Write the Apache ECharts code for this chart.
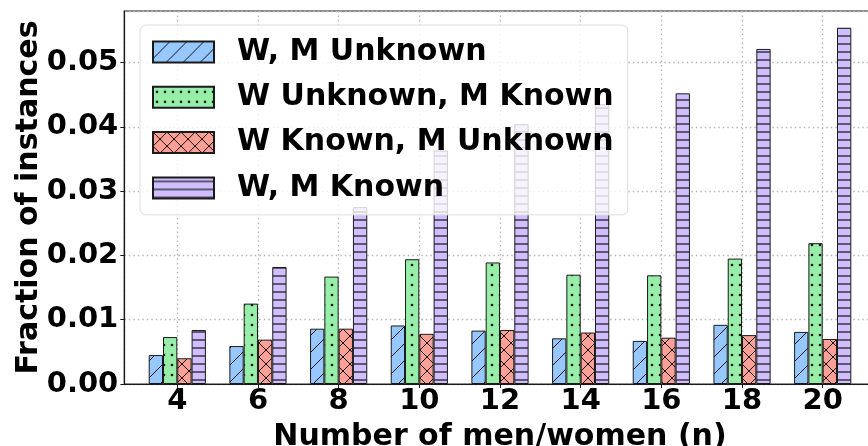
<!DOCTYPE html>
<html>
<head>
<meta charset="utf-8">
<script src="https://cdn.jsdelivr.net/npm/echarts@6/dist/echarts.min.js"></script>
<style>
  html, body { margin: 0; padding: 0; background: #fff; }
  #chart { width: 868px; height: 446px; }
</style>
</head>
<body>
<div id="chart"></div>
<script>
// data
var sizes = [4, 6, 8, 10, 12, 14, 16, 18, 20];
var seriesNames = ['W, M Unknown', 'W Unknown, M Known', 'W Known, M Unknown', 'W, M Known'];
var bothUnknown = [0.0045, 0.0059, 0.0086, 0.0091, 0.0083, 0.0071, 0.0067, 0.0092, 0.0081];
var menKnown    = [0.0073, 0.0125, 0.0167, 0.0194, 0.0189, 0.0170, 0.0169, 0.0195, 0.0219];
var womenKnown  = [0.0040, 0.0069, 0.0086, 0.0078, 0.0084, 0.0080, 0.0072, 0.0076, 0.0070];
var bothKnown   = [0.0084, 0.0182, 0.0275, 0.0363, 0.0404, 0.0435, 0.0452, 0.0521, 0.0554];
var yTicks = [0, 0.01, 0.02, 0.03, 0.04, 0.05];

var FONT = 'DejaVu Sans';

// hatch fills, like matplotlib's '/', '.', 'x', '-'
function hatch(bg, kind) {
	var s = kind === 'dots' ? 8 : (kind === 'lines' ? 8 : (kind === 'cross' ? 14 : 17));
	var h = kind === 'dots' ? 10 : s;
	var c = document.createElement('canvas');
	c.width = s; c.height = h;
	var g = c.getContext('2d');
	g.fillStyle = bg;
	g.fillRect(0, 0, s, h);
	g.strokeStyle = '#111';
	g.fillStyle = '#111';
	g.lineWidth = 1;
	g.beginPath();
	if (kind === 'slash') {
		g.moveTo(-1, s + 1); g.lineTo(s + 1, -1);
		g.moveTo(-2, 2); g.lineTo(2, -2);
		g.moveTo(s - 2, s + 2); g.lineTo(s + 2, s - 2);
		g.stroke();
	} else if (kind === 'cross') {
		g.moveTo(-1, -1); g.lineTo(s + 1, s + 1);
		g.moveTo(-1, s + 1); g.lineTo(s + 1, -1);
		g.stroke();
	} else if (kind === 'lines') {
		g.lineWidth = 1.2;
		g.moveTo(0, 4); g.lineTo(s, 4);
		g.stroke();
	} else {
		g.arc(4, 5, 1.3, 0, Math.PI * 2);
		g.fill();
	}
	return { image: c, repeat: 'repeat' };
}

var fills = [
	hatch('#96c8ff', 'slash'),
	hatch('#96eea8', 'dots'),
	hatch('#ffa096', 'cross'),
	hatch('#d0beff', 'lines')
];
var values = [bothUnknown, menKnown, womenKnown, bothKnown];

var series = seriesNames.map(function(name, i) {
	return {
		name: name,
		type: 'bar',
		barWidth: 14.3,
		barGap: '0%',
		itemStyle: { color: fills[i], borderColor: '#1a1a1a', borderWidth: 1 },
		data: sizes.map(function(n, j) { return [n, values[i][j]]; })
	};
});

var myChart = echarts.init(document.getElementById('chart'));
var option = {
	backgroundColor: '#fff',
	animation: false,
	grid: {
		left: 124.3, right: -7.7, top: 11, bottom: 62,
		outerBoundsMode: 'none',
		containLabel: false,
		show: true, borderColor: '#1a1a1a', borderWidth: 1.2
	},
	legend: {
		orient: 'vertical',
		left: 140, top: 25,
		padding: [12, 14, 12, 12],
		itemWidth: 61, itemHeight: 21, itemGap: 15.3,
		icon: 'rect',
		backgroundColor: 'rgba(255,255,255,0.8)',
		borderColor: '#dddddd', borderWidth: 1, borderRadius: 6,
		textStyle: {
			fontFamily: FONT, fontWeight: 'bold', fontSize: 30, color: '#000',
			lineHeight: 30, padding: [0, 0, 0, 18]
		},
		data: seriesNames
	},
	xAxis: {
		type: 'value',
		min: 2.686, max: 21.314,
		minInterval: 2, maxInterval: 2,
		name: 'Number of men/women (n)',
		nameLocation: 'middle',
		nameGap: 38,
		nameMoveOverlap: false,
		nameTextStyle: { fontFamily: FONT, fontWeight: 'bold', fontSize: 30, color: '#000' },
		axisLine: { lineStyle: { color: '#1a1a1a', width: 1.2 } },
		axisTick: { show: true, length: 4, lineStyle: { color: '#1a1a1a' } },
		axisLabel: {
			fontFamily: FONT, fontWeight: 'bold', fontSize: 29, color: '#000', margin: 3,
			showMinLabel: false, showMaxLabel: false,
			formatter: function(v) { return sizes.indexOf(v) >= 0 ? String(v) : ''; }
		},
		splitLine: { show: true, lineStyle: { color: '#b5b5b5', width: 1.3, type: [1.5, 3] } }
	},
	yAxis: {
		type: 'value',
		min: 0, max: 0.058, interval: 0.01,
		name: 'Fraction of instances',
		nameLocation: 'middle',
		nameGap: 80,
		nameMoveOverlap: false,
		nameTextStyle: { fontFamily: FONT, fontWeight: 'bold', fontSize: 30, color: '#000' },
		axisLine: { show: true, lineStyle: { color: '#1a1a1a', width: 1.2 } },
		axisTick: { show: true, length: 4, lineStyle: { color: '#1a1a1a' } },
		axisLabel: {
			fontFamily: FONT, fontWeight: 'bold', fontSize: 29, color: '#000', margin: 6,
			showMaxLabel: false,
			formatter: function(v) {
				for (var k = 0; k < yTicks.length; k++) {
					if (Math.abs(yTicks[k] - v) < 1e-9) return yTicks[k].toFixed(2);
				}
				return '';
			}
		},
		splitLine: { show: true, lineStyle: { color: '#b5b5b5', width: 1.3, type: [1.5, 3] } }
	},
	series: series
};
myChart.setOption(option);
window.onresize = myChart.resize;
</script>
</body>
</html>
